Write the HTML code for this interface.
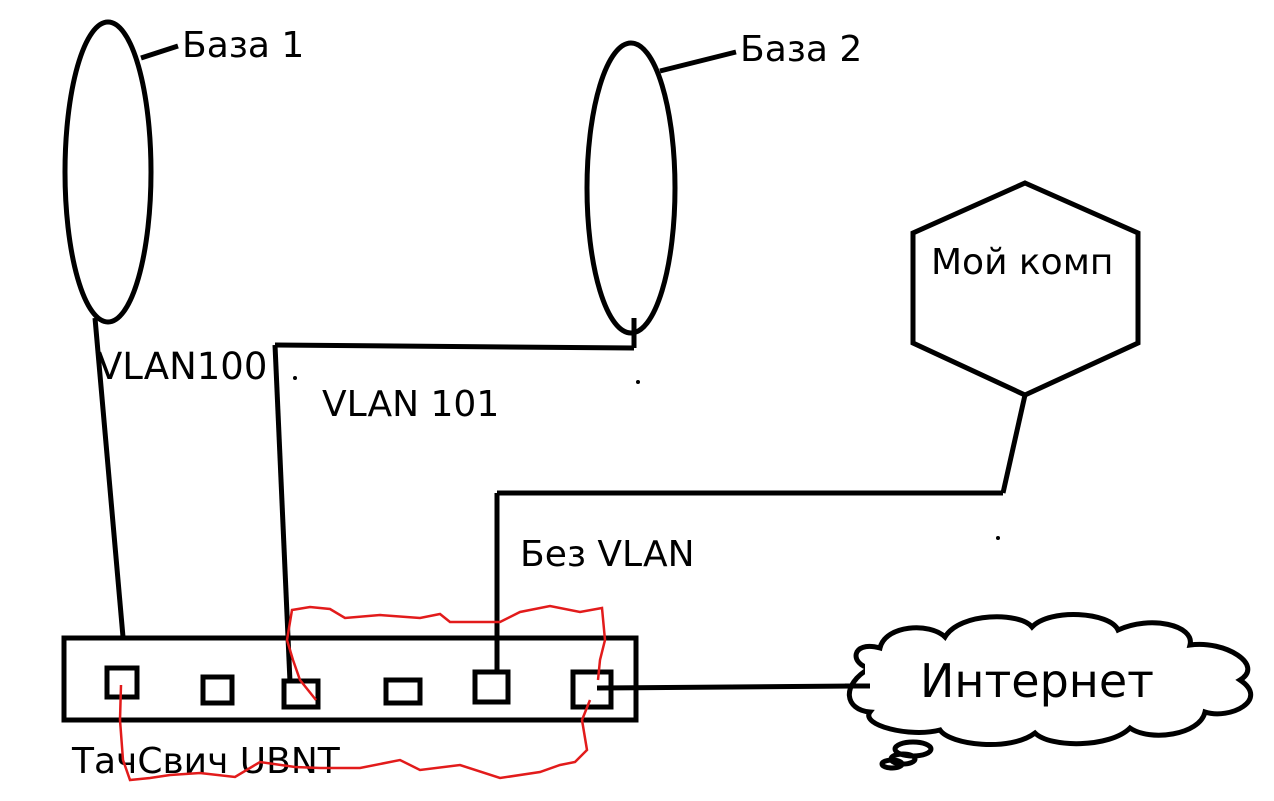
<!DOCTYPE html>
<html><head><meta charset="utf-8"><style>
html,body{margin:0;padding:0;background:#fff;}
svg{display:block;}
text{font-family:"DejaVu Sans","Liberation Sans",sans-serif;fill:#000;}
</style></head><body>
<svg width="1274" height="801" viewBox="0 0 1274 801" xmlns="http://www.w3.org/2000/svg">
<g fill="none" stroke="#000" stroke-width="5">
<ellipse cx="108" cy="172" rx="43" ry="150"/>
<ellipse cx="631" cy="188" rx="44" ry="145"/>
<line x1="141" y1="58" x2="178" y2="46"/>
<line x1="660" y1="71" x2="736" y2="52"/>
<polygon points="1025,183 1138,233 1138,343 1025,395 913,343 913,233"/>
<line x1="95" y1="318" x2="123" y2="637"/>
<line x1="634" y1="318" x2="634" y2="348"/>
<line x1="275" y1="345" x2="634" y2="348"/>
<line x1="275" y1="345" x2="290" y2="682"/>
<line x1="1025" y1="395" x2="1003" y2="493"/>
<line x1="497" y1="493" x2="1003" y2="493"/>
<line x1="497" y1="493" x2="497" y2="672"/>
<rect x="64" y="638" width="572" height="82"/>
<rect x="107" y="668" width="30" height="29"/>
<rect x="203" y="677" width="29" height="26"/>
<rect x="284" y="681" width="34" height="26"/>
<rect x="386" y="680" width="34" height="23"/>
<rect x="475" y="672" width="33" height="30"/>
<rect x="573" y="672" width="38" height="35"/>
<line x1="597" y1="688" x2="855" y2="686"/>
<path d="M870,668 C850,665 850,640 880,648 C885,625 930,622 945,637 C960,612 1020,612 1032,627 C1050,608 1110,612 1118,630 C1150,615 1195,625 1190,645 C1225,640 1265,665 1240,680 C1270,700 1230,720 1205,712 C1200,735 1150,742 1130,728 C1110,748 1050,748 1035,733 C1010,752 950,745 940,730 C910,738 860,725 870,712 C845,710 840,685 870,668 Z"/>
<ellipse cx="913" cy="749" rx="18" ry="7"/>
<ellipse cx="903" cy="759" rx="12" ry="5"/>
<ellipse cx="892" cy="764" rx="10" ry="4"/>
</g>
<rect x="865" y="660" width="30" height="45" fill="#fff"/>
<line x1="845" y1="686" x2="870" y2="686" stroke="#000" stroke-width="5"/>
<circle cx="295" cy="378" r="2"/>
<circle cx="638" cy="382" r="2"/>
<circle cx="998" cy="538" r="2"/>
<text x="182" y="57" font-size="36">База 1</text>
<text x="740" y="61" font-size="36">База 2</text>
<text x="931" y="274" font-size="36">Мой комп</text>
<text x="97" y="379" font-size="37">VLAN100</text>
<text x="322" y="416" font-size="36">VLAN 101</text>
<text x="520" y="566" font-size="36">Без VLAN</text>
<text x="72" y="773" font-size="36">ТачСвич UBNT</text>
<text x="920" y="697" font-size="46">Интернет</text>
<path fill="none" stroke="#e21b1b" stroke-width="2.5" d="M316,700 L300,680 L293,660 L287,640 L292,610 L310,607 L330,609 L345,618 L380,615 L420,618 L440,614 L450,622 L500,622 L520,612 L550,606 L580,612 L602,608 L605,640 L600,660 L598,680 M590,700 L582,720 L587,750 L575,762 L560,765 L540,772 L500,778 L460,765 L420,770 L400,760 L360,768 L320,768 L295,767 L260,762 L235,777 L200,773 L170,775 L150,778 L130,780 L123,760 L120,720 L121,685"/>
</svg>
</body></html>
